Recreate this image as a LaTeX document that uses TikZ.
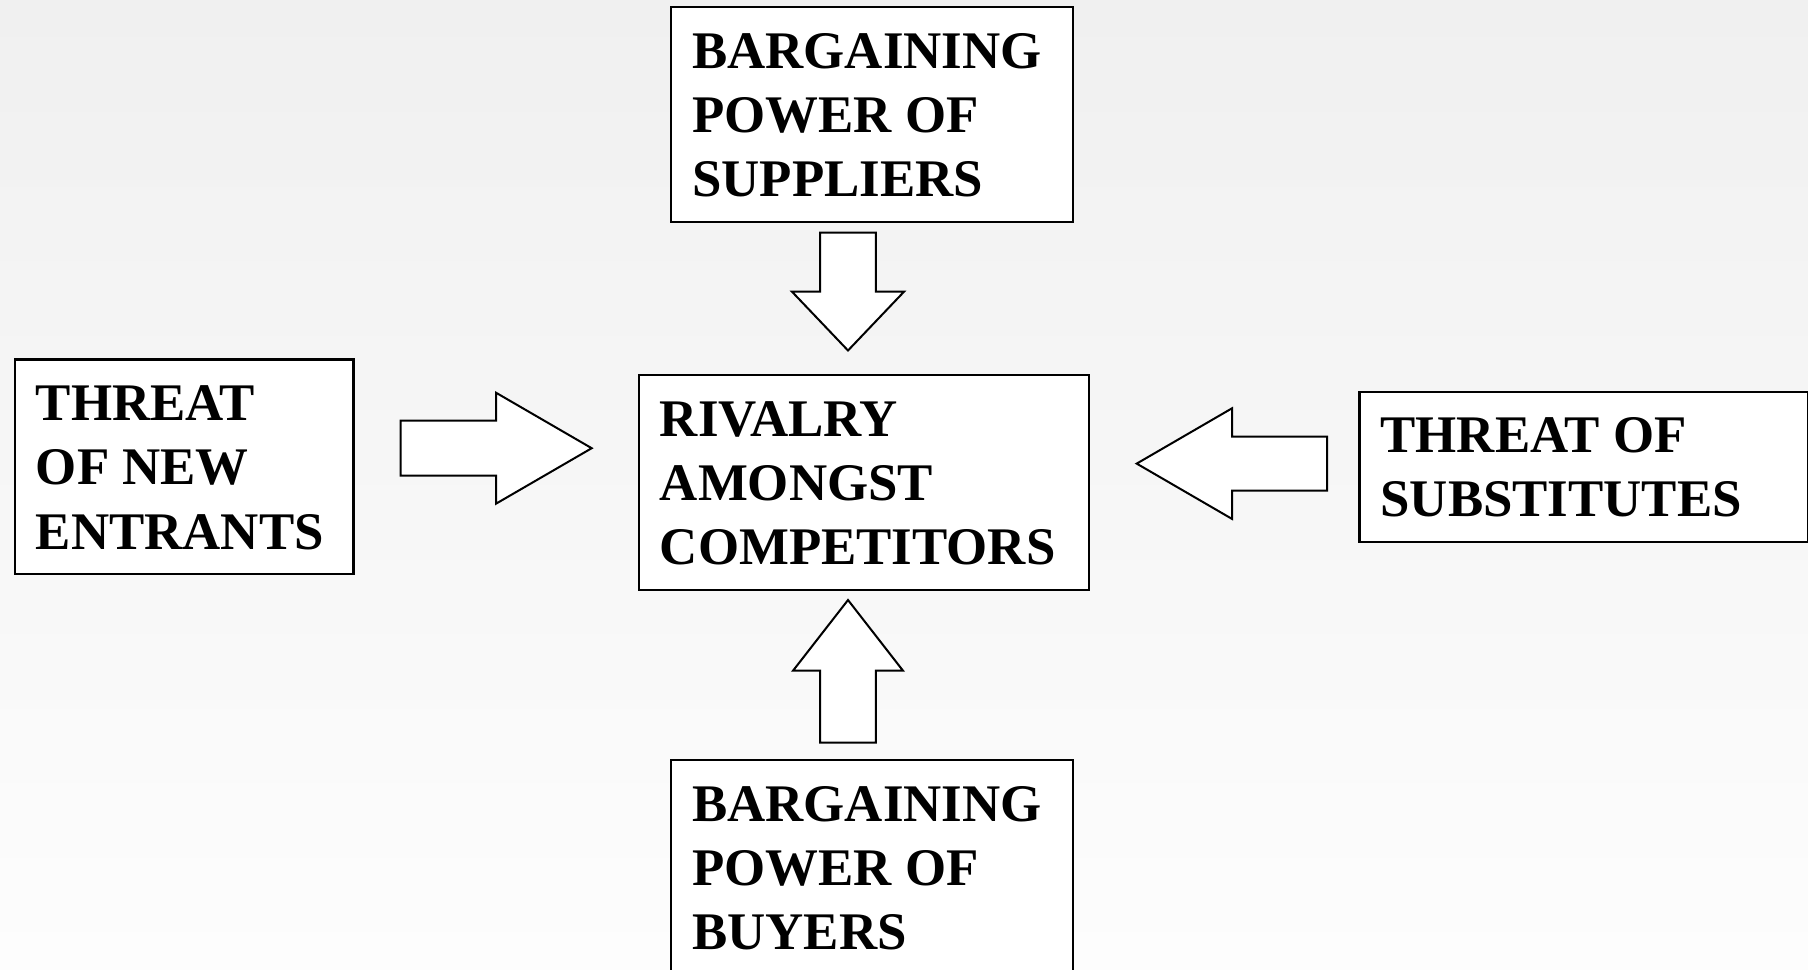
\documentclass[tikz,border=0pt]{standalone}
\usepackage{fontspec}
\setmainfont{Liberation Serif}
\usetikzlibrary{calc}

\definecolor{bgtop}{RGB}{240,240,240}
\definecolor{bgbottom}{RGB}{253,253,253}

% stacked label lines; the baseline of the stack is that of its first line
\newcommand{\forcestack}[1]{\vtop{\baselineskip=32.1pt\lineskiplimit=-100pt #1}}

\begin{document}
\begin{tikzpicture}[x=0.5pt,y=-0.5pt,
  forcebox/.style={draw=black, line width=1.2pt, fill=white, rectangle,
    inner sep=0pt, anchor=north west},
  forcetext/.style={anchor=base west, inner sep=0pt,
    font=\fontsize{26.43pt}{32.1pt}\selectfont\bfseries},
  blockarrow/.style={draw=black, line width=1pt, fill=white, line join=miter}]

  \useasboundingbox (0,0) rectangle (1808,969);
  \fill[top color=bgtop, bottom color=bgbottom] (0,0) rectangle (1808,969);

  % the five forces
  \node[forcebox, minimum width=200.85pt, minimum height=107.35pt] (sup) at (670,6) {};
  \node[forcebox, minimum width=169.3pt,  minimum height=107.35pt] (ent) at (13.7,358.3) {};
  \node[forcebox, minimum width=225.15pt, minimum height=107.5pt]  (riv) at (637.7,374) {};
  \node[forcebox, minimum width=224.2pt,  minimum height=75.15pt]  (sub) at (1358.3,390.7) {};
  \node[forcebox, minimum width=201pt,    minimum height=107.35pt] (buy) at (670,759) {};

  \node[forcetext] (supT) at ($(sup.north west)+(21.8,62.3)$)
    {\forcestack{\hbox{BARGAINING}\hbox{POWER OF}\hbox{SUPPLIERS}}};
  \node[forcetext] (entT) at ($(ent.north west)+(21.8,62.3)$)
    {\forcestack{\hbox{THREAT}\hbox{OF NEW}\hbox{ENTRANTS}}};
  \node[forcetext] (rivT) at ($(riv.north west)+(21.8,62.3)$)
    {\forcestack{\hbox{RIVALRY}\hbox{AMONGST}\hbox{COMPETITORS}}};
  \node[forcetext] (subT) at ($(sub.north west)+(21.8,61.5)$)
    {\forcestack{\hbox{THREAT OF}\hbox{SUBSTITUTES}}};
  \node[forcetext] (buyT) at ($(buy.north west)+(21.8,62.3)$)
    {\forcestack{\hbox{BARGAINING}\hbox{POWER OF}\hbox{BUYERS}}};

  % block arrows pointing at the rivalry box
  \draw[blockarrow] (820.2,232.7) -- (875.8,232.7) -- (875.8,291.7) -- (904,291.7)
    -- (848,350.5) -- (792,291.7) -- (820.2,291.7) -- cycle;
  \draw[blockarrow] (400.7,420.7) -- (496,420.7) -- (496,392.7) -- (591.7,448.2)
    -- (496,503.7) -- (496,475.7) -- (400.7,475.7) -- cycle;
  \draw[blockarrow] (1327,436.7) -- (1232,436.7) -- (1232,408.3) -- (1136.7,463.6)
    -- (1232,518.9) -- (1232,490.5) -- (1327,490.5) -- cycle;
  \draw[blockarrow] (820.2,742.7) -- (820.2,670.7) -- (793,670.7) -- (848,600)
    -- (903,670.7) -- (875.8,670.7) -- (875.8,742.7) -- cycle;
\end{tikzpicture}
\end{document}
